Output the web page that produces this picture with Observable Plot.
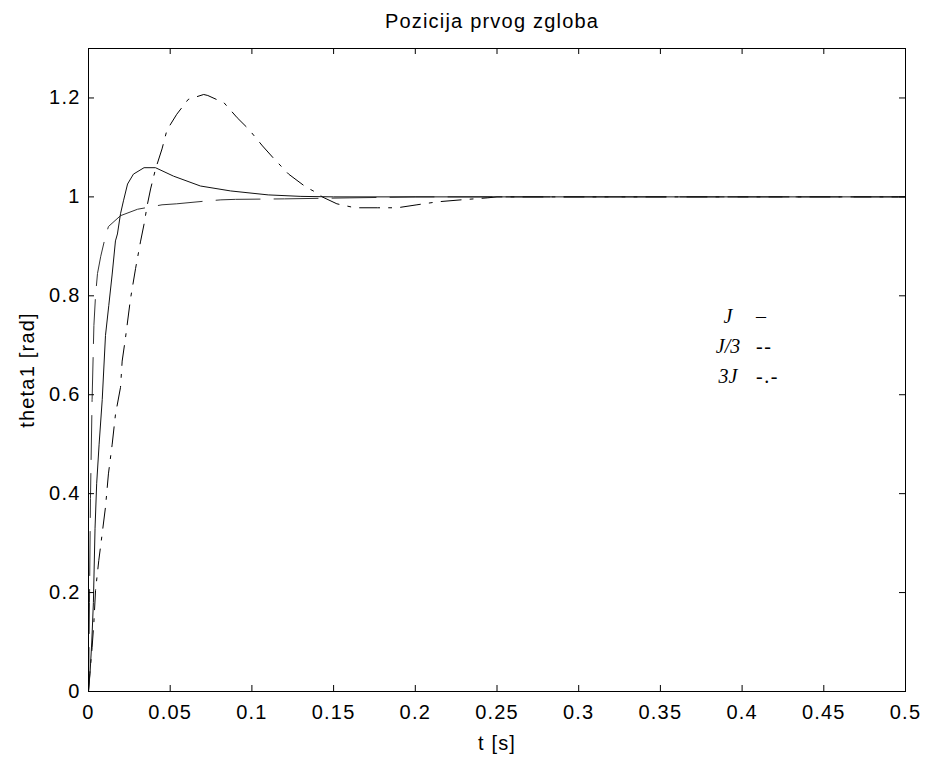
<!DOCTYPE html>
<html><head><meta charset="utf-8">
<script src="https://cdn.jsdelivr.net/npm/d3@7"></script>
<script src="https://cdn.jsdelivr.net/npm/@observablehq/plot@0.6"></script>
<style>
body{margin:0;background:#fff}
#chart{position:relative;width:925px;height:762px}
#chart svg text{letter-spacing:1.2px}
#legend{position:absolute;left:700px;top:301px;font-family:"Liberation Serif","Times New Roman",serif;font-size:20px;line-height:30px;color:#000}
#legend .row{white-space:nowrap;height:30px}
#legend .lab{display:inline-block;width:56px;text-align:center;font-style:italic}
#legend .sym{display:inline-block;letter-spacing:1.5px}
</style>
</head><body><div id="chart"></div>
<script>
const title = "Pozicija prvog zgloba";
const xLabel = "t [s]";
const yLabel = "theta1 [rad]";
const xTicks = [0, 0.05, 0.1, 0.15, 0.2, 0.25, 0.3, 0.35, 0.4, 0.45, 0.5];
const yTicks = [0, 0.2, 0.4, 0.6, 0.8, 1, 1.2];

// J (solid)
const tJ = [0, 0.001, 0.002, 0.003, 0.004, 0.005, 0.0065, 0.0084, 0.0104, 0.0124, 0.0145, 0.0165, 0.0177, 0.0196, 0.0214, 0.0239, 0.0275, 0.034, 0.041, 0.052, 0.0685, 0.087, 0.11, 0.13, 0.15, 0.5];
const vJ = [0, 0.04, 0.1, 0.18, 0.33, 0.42, 0.5, 0.59, 0.72, 0.78, 0.844, 0.911, 0.925, 0.966, 0.992, 1.026, 1.046, 1.059, 1.059, 1.042, 1.022, 1.012, 1.004, 1.001, 1.0, 1.0];

// J/3 (dashed)
const tJ3 = [0, 0.0002, 0.0006, 0.0012, 0.0022, 0.0033, 0.0043, 0.0055, 0.0075, 0.01, 0.0122, 0.0196, 0.03, 0.045, 0.054, 0.07, 0.081, 0.09, 0.12, 0.16, 0.2, 0.5];
const vJ3 = [0, 0.05, 0.18, 0.39, 0.59, 0.74, 0.8, 0.845, 0.88, 0.915, 0.94, 0.962, 0.975, 0.984, 0.986, 0.991, 0.994, 0.995, 0.996, 0.998, 1.0, 1.0];

// 3J (dash-dot)
const t3J = [0, 0.0008, 0.0022, 0.0033, 0.0043, 0.0063, 0.0084, 0.0104, 0.0122, 0.0145, 0.0165, 0.0196, 0.0206, 0.0226, 0.0257, 0.0288, 0.0318, 0.034, 0.036, 0.038, 0.041, 0.045, 0.048, 0.054, 0.061, 0.0705, 0.073, 0.083, 0.091, 0.098, 0.1065, 0.113, 0.1225, 0.133, 0.141, 0.143, 0.152, 0.163, 0.177, 0.189, 0.201, 0.2135, 0.228, 0.244, 0.25, 0.5];
const v3J = [0, 0.036, 0.089, 0.14, 0.204, 0.265, 0.32, 0.373, 0.44, 0.5, 0.56, 0.615, 0.668, 0.714, 0.794, 0.855, 0.909, 0.945, 0.984, 1.016, 1.056, 1.097, 1.135, 1.167, 1.197, 1.207, 1.205, 1.19, 1.16, 1.137, 1.103, 1.079, 1.046, 1.02, 1.006, 1.0, 0.986, 0.978, 0.978, 0.978, 0.984, 0.99, 0.994, 0.998, 1.0, 1.0];

const legendLabels = ["J", "J/3", "3J"];
const legendSymbols = ["\u2013", "--", "-.-"];

const toRows = (ts, vs) => ts.map((t, i) => ({t, v: vs[i]}));
const W = 925, H = 762, mL = 88, mR = 20, mT = 48, mB = 71;
const innerW = W - mL - mR, innerH = H - mT - mB;
const tick = 6;

const plot = Plot.plot({
  width: W, height: H,
  marginLeft: mL, marginRight: mR, marginTop: mT, marginBottom: mB,
  style: {fontFamily: "'Liberation Sans', Arial, sans-serif", fontSize: "20px", background: "#fff", color: "#000"},
  x: {domain: [0, 0.5], axis: null},
  y: {domain: [0, 1.3], axis: null},
  marks: [
    Plot.line(toRows(tJ3, vJ3), {x: "t", y: "v", stroke: "#333", strokeWidth: 1, strokeDasharray: "44,14"}),
    Plot.line(toRows(t3J, v3J), {x: "t", y: "v", stroke: "#000", strokeWidth: 1, strokeDasharray: "20,9,3,9"}),
    Plot.line(toRows(tJ, vJ), {x: "t", y: "v", stroke: "#111", strokeWidth: 1}),
    Plot.frame({stroke: "#000", strokeWidth: 1}),
    Plot.ruleX(xTicks, {x: d => d, insetTop: innerH - tick, stroke: "#000"}),
    Plot.ruleX(xTicks, {x: d => d, insetBottom: innerH - tick, stroke: "#000"}),
    Plot.ruleY(yTicks, {y: d => d, insetRight: innerW - tick, stroke: "#000"}),
    Plot.ruleY(yTicks, {y: d => d, insetLeft: innerW - tick, stroke: "#000"}),
    Plot.axisX({ticks: xTicks, tickSize: 0, tickPadding: 13, tickFormat: d => String(d), label: null, fontSize: 20}),
    Plot.axisY({ticks: yTicks, tickSize: 0, tickPadding: 8, tickFormat: d => String(d), label: null, fontSize: 20}),
    Plot.text([title], {text: d => d, frameAnchor: "top", textAnchor: "middle", dx: -5, dy: -27, fontSize: 20, lineAnchor: "middle"}),
    Plot.text([xLabel], {text: d => d, frameAnchor: "bottom", textAnchor: "middle", dy: 52, fontSize: 20, lineAnchor: "middle"}),
    Plot.text([yLabel], {text: d => d, frameAnchor: "left", textAnchor: "middle", dx: -61, rotate: -90, fontSize: 20, lineAnchor: "middle"})
  ]
});
const chart = document.getElementById("chart");
chart.appendChild(plot);
const legend = document.createElement("div");
legend.id = "legend";
legendLabels.forEach((lab, i) => {
  const row = document.createElement("div");
  row.className = "row";
  const a = document.createElement("span"); a.className = "lab"; a.textContent = lab;
  const b = document.createElement("span"); b.className = "sym"; b.textContent = legendSymbols[i];
  row.appendChild(a); row.appendChild(b);
  legend.appendChild(row);
});
chart.appendChild(legend);
</script>
</body></html>
